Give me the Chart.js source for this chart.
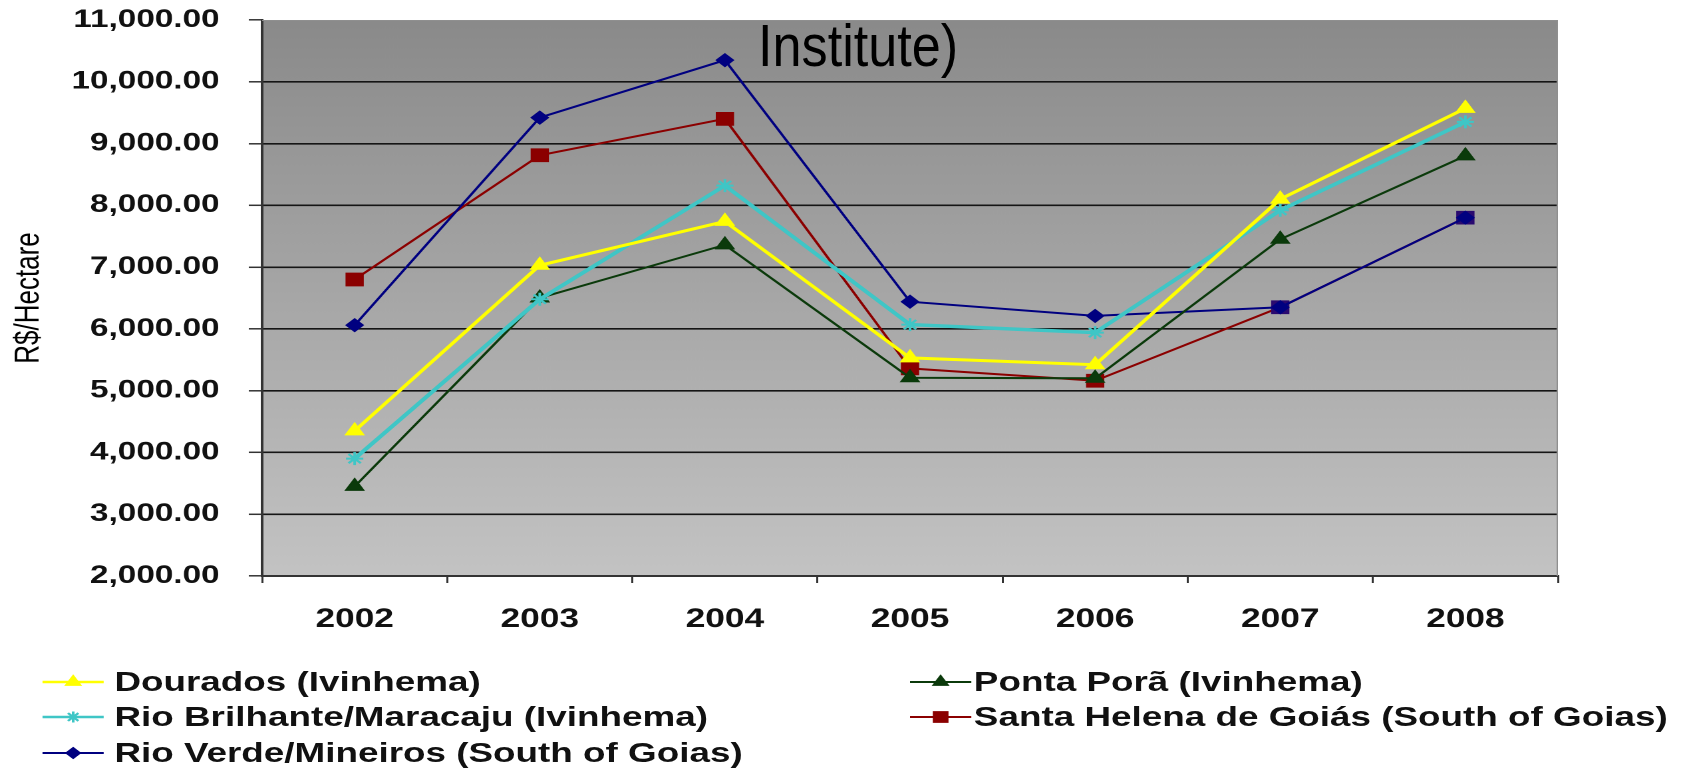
<!DOCTYPE html>
<html>
<head>
<meta charset="utf-8">
<script src="https://cdn.jsdelivr.net/npm/chart.js@4/dist/chart.umd.min.js"></script>
<style>
  html, body { margin: 0; padding: 0; background: #ffffff; }
  body { width: 1683px; height: 782px; overflow: hidden; position: relative; }
  #wrap { position: absolute; left: 0; top: 0; width: 1265px; height: 782px;
          transform: scaleX(1.33043); transform-origin: 0 0; }
  #c { position: absolute; left: 0; top: 0; width: 1265px; height: 782px; }
  #legend { position: absolute; left: 0; top: 0; width: 1265px; height: 782px; pointer-events: none; }
  .item { position: absolute; height: 40px; display: flex; align-items: center;
          font: bold 27.7px "Liberation Sans", Arial, sans-serif; color: #111; white-space: nowrap; }
  .item canvas { width: 46px; height: 24px; display: block; }
  #title { position: absolute; left: 758px; top: 16px; font: 60px "Liberation Sans", Arial, sans-serif;
           line-height: 60px; color: #000; white-space: nowrap; transform: scaleX(0.87); transform-origin: 0 0; }
</style>
</head>
<body>
<div id="wrap">
  <canvas id="c" width="1265" height="782"></canvas>
  <div id="legend"></div>
</div>
<div id="title">Institute)</div>
<script>
// ---- data ----
const years = ['2002', '2003', '2004', '2005', '2006', '2007', '2008'];
const yTickValues = [2000, 3000, 4000, 5000, 6000, 7000, 8000, 9000, 10000, 11000];
const seriesLabels = [
  'Dourados (Ivinhema)',
  'Ponta Porã (Ivinhema)',
  'Rio Brilhante/Maracaju (Ivinhema)',
  'Santa Helena de Goiás (South of Goias)',
  'Rio Verde/Mineiros (South of Goias)'
];
const dourados     = [4350, 7030, 7740, 5530, 5420, 8100, 9570];
const pontaPora    = [3450, 6500, 7360, 5210, 5200, 7450, 8800];
const rioBrilhante = [3900, 6480, 8320, 6070, 5940, 7920, 9350];
const santaHelena  = [6800, 8810, 9400, 5360, 5160, 6350, 7800];
const rioVerde     = [6060, 9420, 10350, 6440, 6210, 6350, 7800];

const FONT = '"Liberation Sans", Arial, sans-serif';

const plotBackground = {
  id: 'plotBackground',
  beforeDraw(chart) {
    const {ctx, chartArea: a} = chart;
    const g = ctx.createLinearGradient(0, a.top, 0, a.bottom);
    g.addColorStop(0, '#8a8a8a');
    g.addColorStop(1, '#c3c3c3');
    ctx.save();
    ctx.fillStyle = g;
    ctx.fillRect(a.left, a.top, a.right - a.left, a.bottom - a.top);
    ctx.restore();
  },
  beforeDatasetsDraw(chart) {
    const {ctx, chartArea: a} = chart;
    ctx.save();
    ctx.strokeStyle = '#8f8f8f';
    ctx.lineWidth = 1;
    ctx.beginPath();
    ctx.moveTo(a.left, a.top + 0.5);
    ctx.lineTo(a.right - 0.5, a.top + 0.5);
    ctx.lineTo(a.right - 0.5, a.bottom);
    ctx.stroke();
    ctx.restore();
  }
};

const santaHelenaPointColors = santaHelena.map((v, i) => i >= 5 ? '#2a0a70' : '#8b0000');

const chart = new Chart(document.getElementById('c'), {
  type: 'line',
  data: {
    labels: years,
    datasets: [
      { label: seriesLabels[0], data: dourados, borderColor: '#ffff00', backgroundColor: '#ffff00',
        borderWidth: 3, pointStyle: 'triangle', pointRadius: 8, pointBorderWidth: 1, order: 0 },
      { label: seriesLabels[1], data: pontaPora, borderColor: '#0b3a0b', backgroundColor: '#0b3a0b',
        borderWidth: 2, pointStyle: 'triangle', pointRadius: 8, pointBorderWidth: 1, order: 2 },
      { label: seriesLabels[2], data: rioBrilhante, borderColor: '#3fc6c6', backgroundColor: '#3fc6c6',
        borderWidth: 3.5, pointStyle: 'star', pointRadius: 6.5, pointBorderWidth: 2, order: 1 },
      { label: seriesLabels[3], data: santaHelena, borderColor: '#8b0000', backgroundColor: '#8b0000',
        pointBackgroundColor: santaHelenaPointColors, pointBorderColor: santaHelenaPointColors,
        borderWidth: 2, pointStyle: 'rect', pointRadius: 9, pointBorderWidth: 1, order: 4 },
      { label: seriesLabels[4], data: rioVerde, borderColor: '#000080', backgroundColor: '#000080',
        borderWidth: 2, pointStyle: 'rectRot', pointRadius: 6.5, pointBorderWidth: 1, order: 3 }
    ]
  },
  options: {
    responsive: false,
    devicePixelRatio: 2,
    animation: false,
    layout: { padding: { left: 0, top: 20, right: 94, bottom: 146 } },
    elements: { line: { tension: 0, fill: false } },
    plugins: {
      legend: { display: false },
      title: { display: false },
      tooltip: { enabled: false }
    },
    scales: {
      x: {
        type: 'category',
        offset: true,
        afterFit(scale) { scale.height = 60; scale.paddingLeft = 0; scale.paddingRight = 0; },
        grid: { offset: true, drawOnChartArea: false, drawTicks: true, tickLength: 7,
                color: '#333333', lineWidth: 1.5 },
        border: { display: true, color: '#333333', width: 2 },
        ticks: { color: '#111111', padding: 21, font: { family: FONT, size: 26.5, weight: 'bold' } }
      },
      y: {
        min: 2000, max: 11000,
        afterFit(scale) { scale.width = 197; scale.paddingTop = 0; scale.paddingBottom = 0; },
        afterBuildTicks(scale) { scale.ticks = yTickValues.map(v => ({ value: v })); },
        grid: {
          color: (c) => (c.tick && c.tick.value === 11000) ? 'rgba(0,0,0,0)' : '#151515',
          lineWidth: 1.6, drawTicks: true, tickLength: 10, tickColor: '#333333', tickWidth: 1.5
        },
        border: { display: true, color: '#333333', width: 2 },
        ticks: {
          color: '#111111', padding: 22,
          font: { family: FONT, size: 25, weight: 'bold' },
          callback: (v) => Number(v).toLocaleString('en-US', { minimumFractionDigits: 2, maximumFractionDigits: 2 })
        },
        title: { display: true, text: 'R$/Hectare', color: '#000000',
                 font: { family: FONT, size: 26, weight: 'normal' }, padding: { top: 6, bottom: 0 } }
      }
    }
  },
  plugins: [plotBackground]
});

// ---- legend built from the chart's datasets ----
(function buildLegend() {
  const host = document.getElementById('legend');
  const colSwatchLeft = [32, 684];
  const colTextGap = [8, 2];
  const rowCenters = [682, 717, 753];
  chart.data.datasets.forEach((ds, i) => {
    const col = i % 2, row = Math.floor(i / 2);
    const item = document.createElement('div');
    item.className = 'item';
    item.style.left = colSwatchLeft[col] + 'px';
    item.style.top = (rowCenters[row] - 20) + 'px';
    const cv = document.createElement('canvas');
    const s = 2;
    cv.width = 46 * s; cv.height = 24 * s;
    const ctx = cv.getContext('2d');
    ctx.scale(s, s);
    ctx.strokeStyle = ds.borderColor;
    ctx.lineWidth = Math.min(ds.borderWidth, 2.5);
    ctx.beginPath(); ctx.moveTo(0, 12); ctx.lineTo(46, 12); ctx.stroke();
    ctx.fillStyle = Array.isArray(ds.pointBackgroundColor) ? ds.pointBackgroundColor[0] : ds.backgroundColor;
    ctx.strokeStyle = Array.isArray(ds.pointBorderColor) ? ds.pointBorderColor[0] : ds.borderColor;
    ctx.lineWidth = ds.pointBorderWidth || 1;
    Chart.helpers.drawPoint(ctx, { pointStyle: ds.pointStyle, radius: ds.pointRadius * 0.85, rotation: 0,
                                   borderWidth: ds.pointBorderWidth || 1 }, 23, 12);
    item.appendChild(cv);
    const t = document.createElement('span');
    t.textContent = ds.label;
    t.style.marginLeft = colTextGap[col] + 'px';
    item.appendChild(t);
    host.appendChild(item);
  });
})();
</script>
</body>
</html>
